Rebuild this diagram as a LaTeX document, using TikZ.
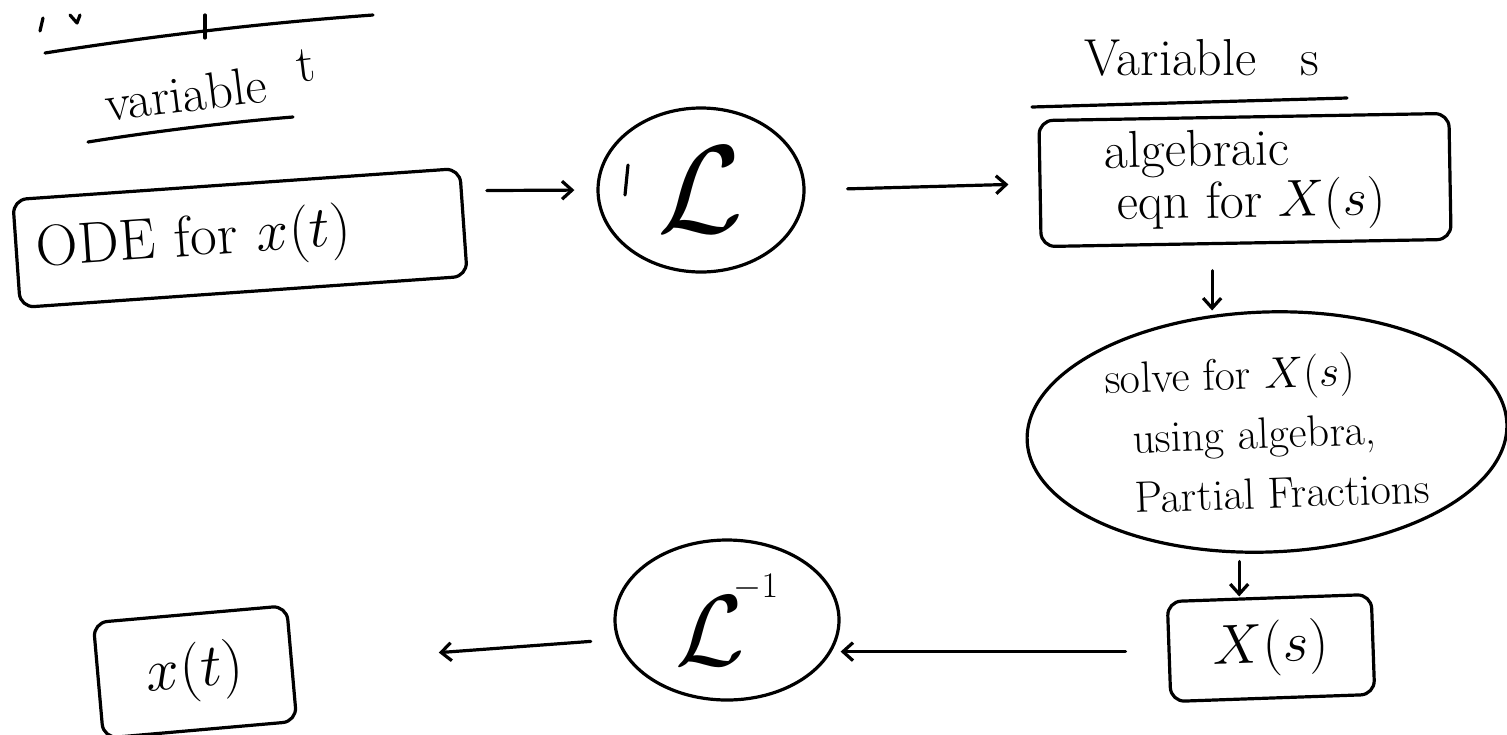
\documentclass[tikz,border=0pt]{standalone}
\IfFileExists{fix-cm.sty}{\usepackage{fix-cm}}{}
\usepackage{amsmath}
\usepackage{graphicx}
\usetikzlibrary{arrows.meta,shapes.geometric}

\begin{document}
\begin{tikzpicture}[x=.5pt,y=-.5pt,
 pen/.style={line width=1.6pt,line cap=round,line join=round},
 box/.style={pen,draw,rounded corners=7pt,inner sep=0pt},
 blob/.style={pen,draw,ellipse,inner sep=0pt},
 arr/.style={pen,-{Straight Barb[length=5pt,width=9pt]}}]
\useasboundingbox (0,0) rectangle (1507,734);

% scraps of an earlier heading at the top edge
\draw[pen] (45,53) .. controls (140,38) and (250,24) .. (373,15);
\draw[pen] (205,15) -- (205,38);
\draw[pen] (40,31) -- (43,18);
\draw[pen] (70,15) -- (77,23) -- (80,15);

% t side
\node[rotate=7,font=\fontsize{26}{30}\selectfont] (vart) at (210,85) {variable\hspace{16pt}\raisebox{8pt}{t}};
\draw[pen] (88,142) .. controls (150,132) and (230,122) .. (293,117);
\node[box,minimum width=224pt,minimum height=54pt,text width=204pt,align=left,rotate=4,font=\fontsize{29}{34}\selectfont] (ode) at (240,238) {ODE for $x(t)$};
\node[blob,minimum width=103pt,minimum height=82pt,font=\fontsize{24}{30}\selectfont] (lap) at (701,190) {\scalebox{2.6}{$\mathcal{L}$}};
\draw[pen] (628,165) -- (625,195);

% s side
\node[font=\fontsize{26}{30}\selectfont] (vars) at (1202,58) {Variable\hspace{22pt}s};
\draw[pen] (1032,107) -- (1347,98);
\node[box,minimum width=205pt,minimum height=63pt,align=left,rotate=1,font=\fontsize{26}{26}\selectfont] (alg) at (1245,180) {algebraic\\\hspace{6pt}eqn for $X(s)$};
\node[blob,minimum width=240pt,minimum height=120pt,align=left,rotate=2,font=\fontsize{22}{30}\selectfont] (solve) at (1267,432) {solve for $X(s)$\\\hspace{13pt}using algebra,\\\hspace{13pt}Partial Fractions};
\node[box,minimum width=102pt,minimum height=50pt,rotate=2,font=\fontsize{28}{30}\selectfont] (xs) at (1271,648) {$X(s)$};
\node[blob,minimum width=112pt,minimum height=80pt,font=\fontsize{24}{30}\selectfont] (ilap) at (727,620) {\scalebox{2.1}{$\mathcal{L}$}\hspace{-6pt}\raisebox{34pt}{\scalebox{0.75}{$-1$}}};
\node[box,minimum width=97pt,minimum height=58pt,rotate=5,font=\fontsize{30}{32}\selectfont] (xt) at (195,672) {$x(t)$\hspace{12pt}};

\draw[arr,shorten <=12pt,shorten >=11pt] (ode.8) -- (lap.west);
\draw[arr,shorten <=21pt,shorten >=15pt] (lap.east) -- (alg.west);
\draw[arr,shorten <=13pt] ([xshift=-17pt]alg.south) -- ([xshift=-17pt]alg.south |- solve.north);
\draw[arr,shorten <=4pt] ([xshift=-15pt]xs.north |- solve.south) -- ([xshift=-15pt]xs.north);
\draw[arr,shorten <=21pt] (xs.west) -- (xs.west -| ilap.east);
\draw[arr,shorten <=13pt,shorten >=73pt] (ilap.190) -- (xt.east);
\end{tikzpicture}
\end{document}
